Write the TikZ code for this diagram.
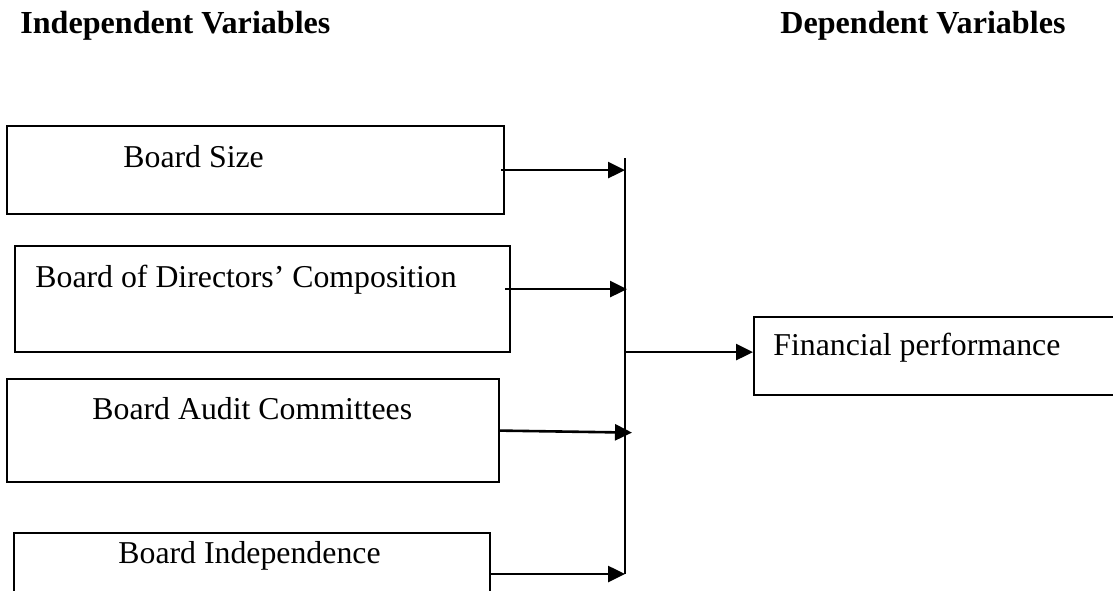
\documentclass[tikz,border=0pt]{standalone}
\usepackage{fontspec}
\setmainfont{Liberation Serif}
\usetikzlibrary{arrows.meta}

\tikzset{
	varbox/.style={draw, line width=1.1pt, rectangle, anchor=north west, inner sep=0pt},
	vartext/.style={anchor=base west, inner sep=0pt, font=\fontsize{15.9}{19}\selectfont},
	headtext/.style={anchor=base west, inner sep=0pt, font=\fontsize{16.05}{19}\selectfont\bfseries},
	link/.style={line width=1.3pt, -{Triangle[length=8.5pt, width=8pt]}}
}

\begin{document}
\begin{tikzpicture}[x=0.5pt,y=0.5pt,yscale=-1,xscale=1]
	\useasboundingbox (0,0) rectangle (1113,590);
	% headings
	\node[headtext] (indep) at (20,33) {Independent Variables};
	\node[headtext] (dep) at (780,33) {Dependent Variables};
	% boxes
	\node[varbox, minimum width=248.5pt, minimum height=44pt] (size) at (6,125) {};
	\node[varbox, minimum width=247.5pt, minimum height=53pt] (comp) at (14,245) {};
	\node[varbox, minimum width=246pt, minimum height=51.5pt] (audit) at (6,378) {};
	\node[varbox, minimum width=238pt, minimum height=39pt] (indeps) at (13,532) {};
	\node[varbox, minimum width=186pt, minimum height=39pt] (perf) at (753,316) {};
	\node[vartext] (sizetxt) at (123,167) {Board Size};
	\node[vartext] (comptxt) at (35,287) {Board of Directors’ Composition};
	\node[vartext] (audittxt) at (92,419) {Board Audit Committees};
	\node[vartext] (indepstxt) at (118,563) {Board Independence};
	\node[vartext] (perftxt) at (773,355) {Financial performance};
	% bus line
	\coordinate (bustop) at (625,158);
	\coordinate (busbot) at (625,574);
	\draw[line width=1.3pt] (bustop) -- (busbot);
	% arrows into the bus
	\coordinate (sizeout) at ([xshift=-2pt]size.east);
	\coordinate (compout) at ([xshift=-3pt,yshift=-5pt]comp.east);
	\coordinate (auditout) at (audit.east);
	\coordinate (indepsout) at (indeps.north east |- busbot);
	\path (compout -| bustop) coordinate (compin);
	\path (auditout -| bustop) coordinate (auditin);
	\draw[link] (sizeout) -- (sizeout -| bustop);
	\draw[link] (compout) -- ([xshift=1pt]compin);
	\draw[link] (auditout) -- ([xshift=3.5pt,yshift=1pt]auditin);
	\draw[link] (indepsout) -- (busbot);
	% arrow to the dependent variable
	\coordinate (perfin) at ([yshift=-2pt]perf.west);
	\draw[link] (perfin -| bustop) -- (perfin);
\end{tikzpicture}
\end{document}
